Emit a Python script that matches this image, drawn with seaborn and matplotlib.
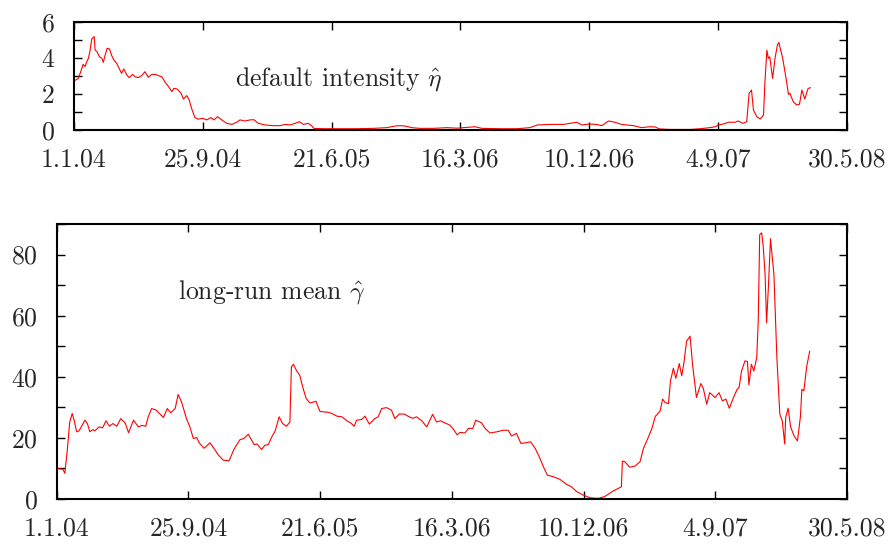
"""Default intensity and long-run mean estimates, two stacked panels."""

import matplotlib
matplotlib.use("Agg")
import matplotlib.pyplot as plt
import pandas as pd
import seaborn as sns
from matplotlib.ticker import MultipleLocator

# days since 1.1.04 and estimated default intensity eta-hat
eta_day = [0, 4, 9, 14, 19, 23, 26, 30, 33, 37, 42, 44, 48, 53, 58, 61, 65, 69, 74, 78,
           83, 89, 94, 99, 104, 110, 115, 122, 127, 134, 141, 148, 155, 162, 169, 176,
           183, 190, 197, 204, 208, 215, 223, 228, 235, 240, 245, 252, 259, 268, 277,
           285, 292, 299, 308, 318, 329, 339, 346, 356, 367, 375, 384, 398, 415, 429,
           440, 450, 461, 470, 478, 488, 495, 500, 520, 554, 589, 624, 652, 669, 679,
           690, 704, 721, 749, 777, 798, 822, 836, 850, 888, 923, 950, 966, 992, 1020,
           1048, 1058, 1074, 1089, 1100, 1114, 1127, 1141, 1152, 1166, 1183, 1200, 1211,
           1220, 1242, 1284, 1305, 1325, 1336, 1343, 1353, 1364, 1378, 1384, 1394, 1402,
           1407, 1412, 1416, 1423, 1430, 1437, 1440, 1444, 1447, 1450, 1456, 1461, 1466,
           1469, 1471, 1477, 1484, 1489, 1492, 1499, 1506, 1512, 1517, 1523, 1530, 1535]
eta_val = [2.75, 2.78, 2.87, 3.24, 3.65, 3.52, 3.76, 3.98, 4.35, 5.06, 5.19, 4.44, 4.35,
           4.07, 3.98, 3.76, 4.17, 4.54, 4.50, 4.17, 3.89, 3.70, 3.43, 3.15, 3.39, 3.06,
           2.91, 3.09, 2.96, 2.91, 3.02, 3.24, 2.93, 3.09, 3.09, 3.02, 2.96, 2.65, 2.41,
           2.13, 2.31, 2.28, 2.04, 1.72, 1.91, 1.67, 1.20, 0.69, 0.60, 0.65, 0.56, 0.69,
           0.56, 0.74, 0.56, 0.37, 0.31, 0.43, 0.56, 0.50, 0.56, 0.57, 0.37, 0.28, 0.24,
           0.24, 0.31, 0.28, 0.37, 0.46, 0.31, 0.37, 0.24, 0.09, 0.07, 0.07, 0.07, 0.09,
           0.13, 0.22, 0.24, 0.22, 0.13, 0.09, 0.09, 0.13, 0.10, 0.15, 0.18, 0.09, 0.07,
           0.07, 0.13, 0.28, 0.31, 0.31, 0.43, 0.28, 0.33, 0.31, 0.24, 0.50, 0.43, 0.31,
           0.28, 0.24, 0.13, 0.18, 0.17, 0.06, 0.03, 0.03, 0.07, 0.13, 0.18, 0.28, 0.33,
           0.43, 0.43, 0.50, 0.37, 0.46, 2.04, 2.22, 1.11, 0.74, 0.61, 0.83, 2.68, 4.44,
           3.98, 4.07, 2.87, 3.98, 4.72, 4.87, 4.63, 3.98, 2.87, 1.98, 2.04, 1.57, 1.39,
           1.43, 2.22, 1.72, 2.31, 2.35]

# days since 1.1.04 and estimated long-run mean gamma-hat
gamma_day = [0, 12, 16, 21, 26, 31, 35, 40, 45, 57, 62, 67, 73, 77, 86, 93, 100, 107, 114,
             122, 130, 139, 146, 156, 166, 173, 181, 186, 193, 202, 209, 217, 225, 232,
             241, 247, 254, 264, 271, 278, 285, 290, 300, 312, 320, 329, 339, 351, 361,
             373, 381, 390, 402, 408, 417, 424, 431, 438, 445, 453, 460, 468, 475, 478,
             482, 489, 495, 501, 508, 516, 528, 536, 544, 553, 563, 571, 581, 591, 599,
             606, 611, 621, 628, 637, 648, 655, 662, 672, 682, 689, 698, 708, 718, 726,
             733, 744, 754, 766, 774, 782, 791, 801, 809, 816, 822, 832, 839, 848, 854,
             866, 873, 883, 897, 910, 920, 927, 937, 946, 956, 966, 975, 983, 992, 1000,
             1012, 1026, 1039, 1049, 1060, 1073, 1087, 1104, 1117, 1134, 1151, 1153, 1158,
             1168, 1179, 1189, 1196, 1204, 1213, 1220, 1230, 1235, 1240, 1247, 1251, 1257,
             1262, 1269, 1274, 1278, 1284, 1291, 1296, 1304, 1313, 1318, 1325, 1331, 1342,
             1350, 1357, 1364, 1371, 1379, 1387, 1391, 1396, 1403, 1408, 1411, 1416, 1421,
             1427, 1430, 1433, 1437, 1440, 1444, 1447, 1451, 1455, 1462, 1468, 1474, 1479,
             1484, 1486, 1491, 1496, 1503, 1510, 1516, 1519, 1523, 1529, 1535]
gamma_val = [10.0, 9.7, 8.4, 16.0, 25.2, 28.0, 25.8, 22.0, 22.3, 25.8, 24.7, 22.0, 22.7,
             22.3, 23.6, 23.3, 25.6, 23.8, 24.7, 23.8, 26.3, 24.9, 21.7, 25.8, 23.6, 24.1,
             23.8, 26.9, 29.6, 29.1, 28.0, 26.7, 29.6, 28.2, 29.6, 34.2, 31.8, 26.3, 23.6,
             19.8, 20.1, 18.4, 16.6, 18.4, 16.6, 14.4, 12.7, 12.5, 16.3, 19.4, 19.8, 21.2,
             17.8, 18.0, 16.2, 17.6, 17.8, 20.3, 22.3, 26.9, 24.7, 23.8, 25.2, 43.2, 44.1,
             41.9, 40.5, 36.7, 32.9, 31.4, 32.0, 28.7, 28.5, 28.4, 27.8, 27.1, 26.9, 25.6,
             24.9, 23.8, 25.8, 26.0, 27.1, 24.5, 26.3, 26.9, 29.6, 29.9, 29.1, 26.3, 27.8,
             27.8, 26.9, 26.4, 26.9, 25.6, 23.6, 27.7, 25.2, 25.6, 24.9, 24.2, 22.7, 21.0,
             21.8, 21.6, 23.1, 23.1, 25.8, 24.9, 23.1, 21.6, 22.0, 22.5, 22.5, 20.6, 21.5,
             18.2, 18.4, 18.7, 16.6, 14.0, 10.5, 7.8, 7.3, 6.4, 4.8, 4.0, 2.4, 1.3, 0.4,
             0.2, 0.8, 2.6, 4.0, 12.4, 12.2, 10.4, 10.8, 12.2, 16.6, 19.5, 23.0, 27.0, 28.8,
             32.7, 31.6, 31.2, 38.6, 42.8, 39.5, 44.3, 40.3, 44.1, 51.7, 53.3, 44.1, 33.2,
             37.8, 36.2, 31.0, 34.8, 33.2, 34.8, 32.1, 32.7, 29.7, 33.0, 35.9, 36.5, 41.9,
             45.2, 45.0, 37.3, 44.1, 41.9, 46.3, 58.2, 86.5, 87.1, 83.0, 73.5, 57.7, 70.2,
             85.2, 73.5, 46.3, 27.8, 25.6, 18.0, 26.7, 29.7, 23.6, 20.7, 19.0, 26.9, 35.9,
             35.4, 43.5, 48.4]

tick_dates = ["2004-01-01", "2004-09-25", "2005-06-21", "2006-03-16",
              "2006-12-10", "2007-09-04", "2008-05-30"]
tick_labels = ["1.1.04", "25.9.04", "21.6.05", "16.3.06", "10.12.06", "4.9.07", "30.5.08"]

start = pd.Timestamp("2004-01-01")
eta = pd.DataFrame({"date": start + pd.to_timedelta(eta_day, unit="D"), "value": eta_val})
gamma = pd.DataFrame({"date": start + pd.to_timedelta(gamma_day, unit="D"), "value": gamma_val})

sns.set_style("white")
plt.rcParams["font.family"] = ["cmr10", "DejaVu Serif"]
plt.rcParams["mathtext.fontset"] = "cm"
plt.rcParams["axes.formatter.use_mathtext"] = True
FS = 18.5

fig = plt.figure(figsize=(8.96, 5.45), dpi=100)
ax_top = fig.add_axes([0.0826, 0.7615, 0.8627, 0.1981])
ax_bot = fig.add_axes([0.0636, 0.0844, 0.8817, 0.5046])


def style_axis(ax, ymax, major, minor):
    ax.set_xlim(pd.Timestamp("2004-01-01"), pd.Timestamp("2008-05-30"))
    ax.set_ylim(0, ymax)
    ax.set_xticks(pd.to_datetime(tick_dates))
    ax.set_xticklabels(tick_labels, ha="center")
    ax.yaxis.set_major_locator(MultipleLocator(major))
    ax.yaxis.set_minor_locator(MultipleLocator(minor))
    ax.tick_params(which="both", direction="in", length=6, width=1.0, color="black",
                   top=True, right=True, left=True, bottom=True, labelsize=FS)
    ax.tick_params(axis="x", pad=13)
    ax.tick_params(axis="y", pad=14)
    for spine in ax.spines.values():
        spine.set_color("black")
        spine.set_linewidth(1.5)
    ax.set_xlabel("")
    ax.set_ylabel("")
    ax.grid(False)


sns.lineplot(data=eta, x="date", y="value", ax=ax_top, color="red", linewidth=0.8,
             estimator=None)
style_axis(ax_top, 6, 2, 1)
ax_top.text(start + pd.Timedelta(days=335), 2.44, r"default intensity $\hat{\eta}$",
            fontsize=FS, va="baseline", ha="left")

sns.lineplot(data=gamma, x="date", y="value", ax=ax_bot, color="red", linewidth=0.8,
             estimator=None)
style_axis(ax_bot, 90, 20, 10)
ax_bot.text(start + pd.Timedelta(days=247), 65.5, r"long-run mean $\hat{\gamma}$",
            fontsize=FS, va="baseline", ha="left")

fig.savefig("out.png", dpi=100)
